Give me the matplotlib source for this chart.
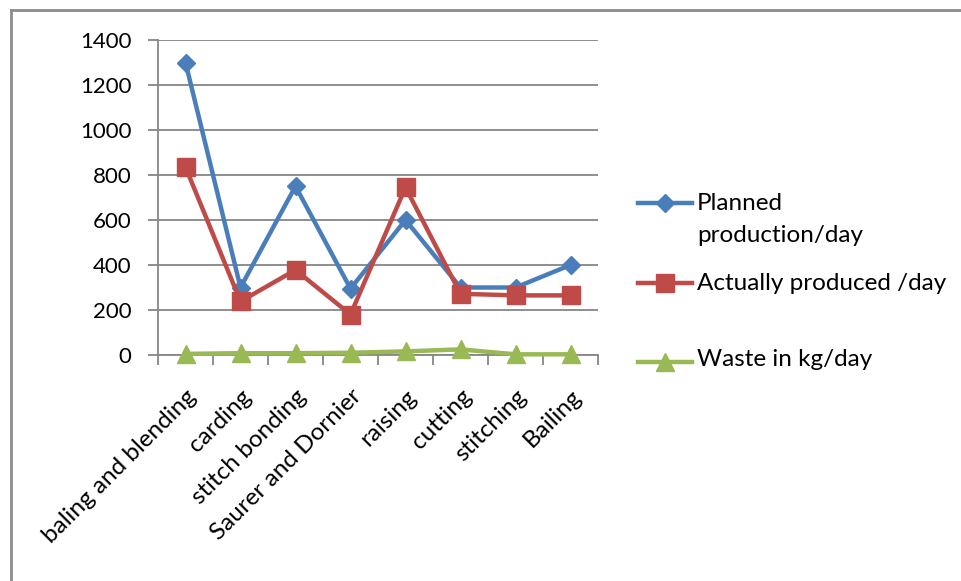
import matplotlib
matplotlib.use("Agg")
import matplotlib.pyplot as plt
from matplotlib.lines import Line2D
import numpy as np

plt.rcParams['font.family'] = ['Lato', 'DejaVu Sans']

categories = ["baling and blending", "carding", "stitch bonding", "Saurer and Dornier",
              "raising", "cutting", "stitching", "Bailing"]
planned = [1300, 300, 750, 295, 600, 300, 300, 400]
actual = [835, 238, 378, 180, 745, 272, 265, 265]
waste = [5, 8, 8, 10, 16, 25, 3, 3]
series_names = ["Planned\nproduction/day", "Actually produced /day", "Waste in kg/day"]
yticks = [0, 200, 400, 600, 800, 1000, 1200, 1400]

blue, red, green = "#4A7EBB", "#BE4B48", "#98B954"
grid_c = "#868686"
fs = 17.5

fig = plt.figure(figsize=(9.62, 5.81), dpi=100)
ax = fig.add_axes([158/962, 1-355/581, 440/962, 315/581])

x = np.arange(len(categories))
ax.plot(x, planned, color=blue, lw=3.2, marker="D", ms=9, zorder=3)
ax.plot(x, actual, color=red, lw=3.2, marker="s", ms=13, zorder=4)
ax.plot(x, waste, color=green, lw=3.2, marker="^", ms=13, zorder=5, clip_on=False)

ax.set_xlim(-0.5, len(categories) - 0.5)
ax.set_ylim(0, 1400)
ax.set_yticks(yticks)
ax.set_yticklabels([str(v) for v in yticks], fontsize=16)
ax.yaxis.grid(True, color=grid_c, lw=1.3)
ax.set_axisbelow(True)
ax.tick_params(axis='y', length=7, width=1.3, color=grid_c, pad=12)

ax.set_xticks(np.arange(-0.5, len(categories), 1.0))
ax.set_xticklabels([])
ax.set_xticks(x, minor=True)
ax.set_xticklabels(categories, minor=True, rotation=45, ha='right', va='top',
                   rotation_mode='anchor', fontsize=fs)
ax.tick_params(axis='x', which='major', length=7, width=1.3, color=grid_c, direction='out')
ax.tick_params(axis='x', which='minor', length=0, pad=22)

for s in ['top', 'right']:
    ax.spines[s].set_visible(False)
for s in ['left', 'bottom']:
    ax.spines[s].set_color(grid_c)
    ax.spines[s].set_linewidth(1.3)

# legend drawn in figure coordinates
entries = [(blue, "D", 9, 203), (red, "s", 13, 283), (green, "^", 13, 362)]
baselines = [[210, 242], [290], [366]]
for (c, m, ms, ly), name, bls in zip(entries, series_names, baselines):
    fy = 1 - ly/581
    fig.add_artist(Line2D([638/962, 692/962], [fy, fy], color=c, lw=3.2,
                          transform=fig.transFigure))
    fig.add_artist(Line2D([665/962], [fy], color=c, marker=m, ms=ms, lw=0,
                          transform=fig.transFigure))
    for part, bl in zip(name.split('\n'), bls):
        fig.text(697/962, 1 - bl/581, part, fontsize=fs, va='baseline', ha='left')

# chart frame
fig.add_artist(Line2D([11/962, 11/962], [0, 1 - 10/581], color="#8C8C8C", lw=2,
                      transform=fig.transFigure))
fig.add_artist(Line2D([11/962, 1], [1 - 10/581, 1 - 10/581], color="#8C8C8C", lw=2,
                      transform=fig.transFigure))

fig.savefig("out.png", dpi=100)
